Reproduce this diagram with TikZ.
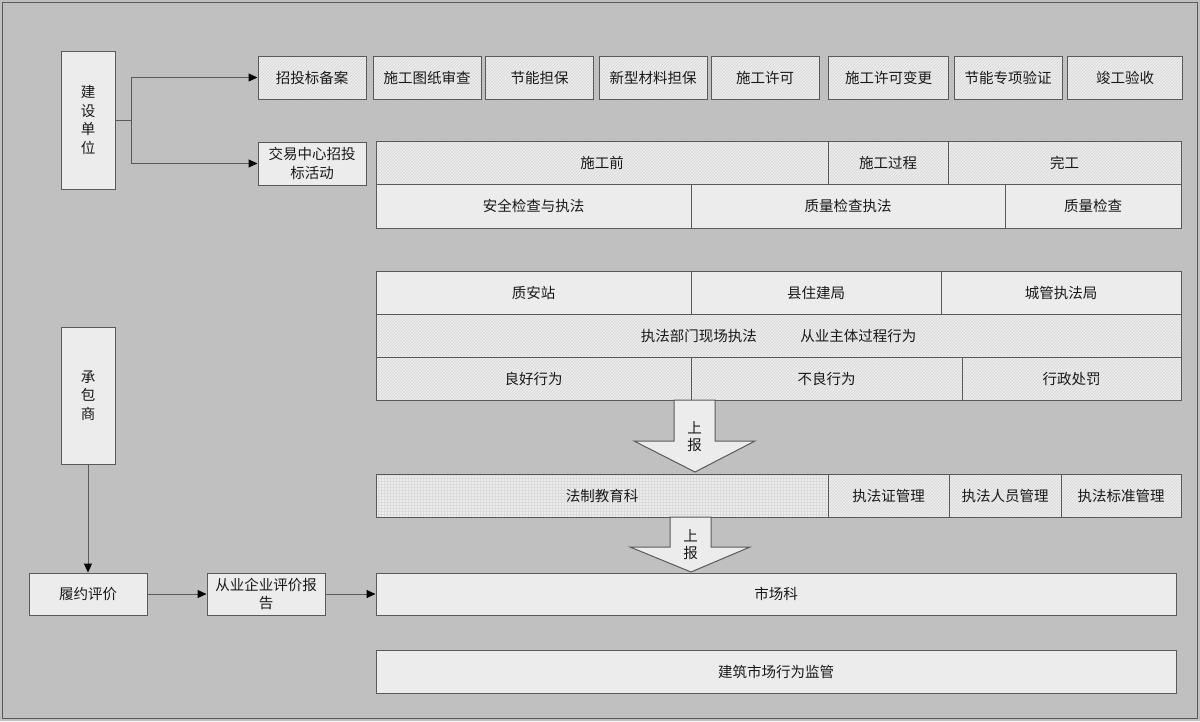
\documentclass[tikz,border=0pt]{standalone}
\usepackage{fontspec}
\setmainfont{Noto Sans CJK SC}
\usetikzlibrary{arrows.meta,patterns}
\definecolor{bgG}{HTML}{C0C0C0}
\definecolor{boxG}{HTML}{ECECEC}
\definecolor{lineG}{HTML}{5A5A5A}
\begin{document}
\begin{tikzpicture}[x=1pt,y=-1pt,
  cell/.style={shape=rectangle,draw=lineG,line width=1pt,fill=boxG,inner sep=0pt,align=center,text=black!90,font=\fontsize{14.5}{18.5}\selectfont},
  cellH/.style={cell,fill=none,preaction={fill=boxG},preaction={pattern=north east lines,pattern color=black!16}},
  cellD/.style={cell,fill=none,preaction={fill=boxG},preaction={pattern=grid,pattern color=black!14}},
  topbox/.style={cellH,minimum height=43pt},
  link/.style={draw=lineG,line width=1pt,-{Triangle[length=9pt,width=8pt,color=black,fill=black]}},
  upArrow/.style={draw=lineG,line width=1pt,fill=boxG},
  upText/.style={font=\fontsize{14.5}{17}\selectfont,align=center,inner sep=0pt,text=black!90}]
\def\rh{43pt}

% background and frame
\fill[bgG] (0,0) rectangle (1200,721);
\draw[lineG,line width=1pt] (2,2) rectangle (1197,718);

% left column
\node[cell,minimum width=54pt,minimum height=138pt] (unit) at (88,120) {建\\设\\单\\位};
\node[cell,minimum width=54pt,minimum height=137pt] (contr) at (88,395.5) {承\\包\\商};
\node[cell,minimum width=118pt,minimum height=42pt] (perf) at (88,594) {履约评价};
\node[cell,minimum width=118pt,minimum height=42pt] (report) at (266,594) {从业企业评价报\\告};
\node[cell,minimum width=108pt,minimum height=43pt] (trade) at (312,163.5) {交易中心招投\\标活动};

% top row
\node[topbox,minimum width=108pt] (t1) at (312,77.5) {招投标备案};
\node[topbox,minimum width=108pt] (t2) at (427,77.5) {施工图纸审查};
\node[topbox,minimum width=108pt] (t3) at (539.5,77.5) {节能担保};
\node[topbox,minimum width=108pt] (t4) at (653,77.5) {新型材料担保};
\node[topbox,minimum width=108pt] (t5) at (765,77.5) {施工许可};
\node[topbox,minimum width=120pt] (t6) at (888.5,77.5) {施工许可变更};
\node[topbox,minimum width=108pt] (t7) at (1008,77.5) {节能专项验证};
\node[topbox,minimum width=115pt] (t8) at (1125,77.5) {竣工验收};

% stages
\node[cellH,minimum width=452pt,minimum height=\rh] (pre) at (602,162.5) {施工前};
\node[cellH,minimum width=120pt,minimum height=\rh] (during) at (888,162.5) {施工过程};
\node[cellH,minimum width=233pt,minimum height=\rh] (done) at (1064.5,162.5) {完工};
\node[cell,minimum width=315pt,minimum height=44pt] (safe) at (533.5,206) {安全检查与执法};
\node[cell,minimum width=314pt,minimum height=44pt] (qlaw) at (848,206) {质量检查执法};
\node[cell,minimum width=176pt,minimum height=44pt] (qchk) at (1093,206) {质量检查};

% enforcement
\node[cell,minimum width=315pt,minimum height=\rh] (zaz) at (533.5,292.5) {质安站};
\node[cell,minimum width=250pt,minimum height=\rh] (xzj) at (816,292.5) {县住建局};
\node[cell,minimum width=240pt,minimum height=\rh] (cgj) at (1061,292.5) {城管执法局};
\node[cellH,minimum width=805pt,minimum height=\rh] (site) at (778.5,335.5) {执法部门现场执法\hspace{3em}从业主体过程行为};
\node[cellH,minimum width=315pt,minimum height=\rh] (good) at (533.5,378.5) {良好行为};
\node[cellH,minimum width=271pt,minimum height=\rh] (bad) at (826.5,378.5) {不良行为};
\node[cellH,minimum width=219pt,minimum height=\rh] (fine) at (1071.5,378.5) {行政处罚};

% legal education
\node[cellD,minimum width=452pt,minimum height=\rh] (edu) at (602,495.5) {法制教育科};
\node[cellH,minimum width=121pt,minimum height=\rh] (lic) at (888.5,495.5) {执法证管理};
\node[cellH,minimum width=112pt,minimum height=\rh] (staff) at (1005,495.5) {执法人员管理};
\node[cellH,minimum width=120pt,minimum height=\rh] (std) at (1121,495.5) {执法标准管理};

% market
\node[cell,minimum width=800pt,minimum height=42pt] (mkt) at (776,594) {市场科};
\node[cell,minimum width=800pt,minimum height=43pt] (sup) at (776,671.5) {建筑市场行为监管};

% report arrows
\draw[upArrow] (674,400) -- (715,400) -- (715,441) -- (755,441) -- (695,472) -- (634,441) -- (674,441) -- cycle;
\node[upText] (up1) at (694.5,437) {上\\报};
\draw[upArrow] (670,517) -- (711,517) -- (711,547) -- (750,547) -- (691,572) -- (630,547) -- (670,547) -- cycle;
\node[upText] (up2) at (690.5,545) {上\\报};

% connectors
\draw[link] (unit.east) -- ++(16,0) |- (t1.west);
\draw[link] (unit.east) -- ++(16,0) |- (trade.west);
\draw[link] (contr.south) -- (perf.north);
\draw[link] (perf.east) -- (report.west);
\draw[link] (report.east) -- (mkt.west);
\end{tikzpicture}
\end{document}
